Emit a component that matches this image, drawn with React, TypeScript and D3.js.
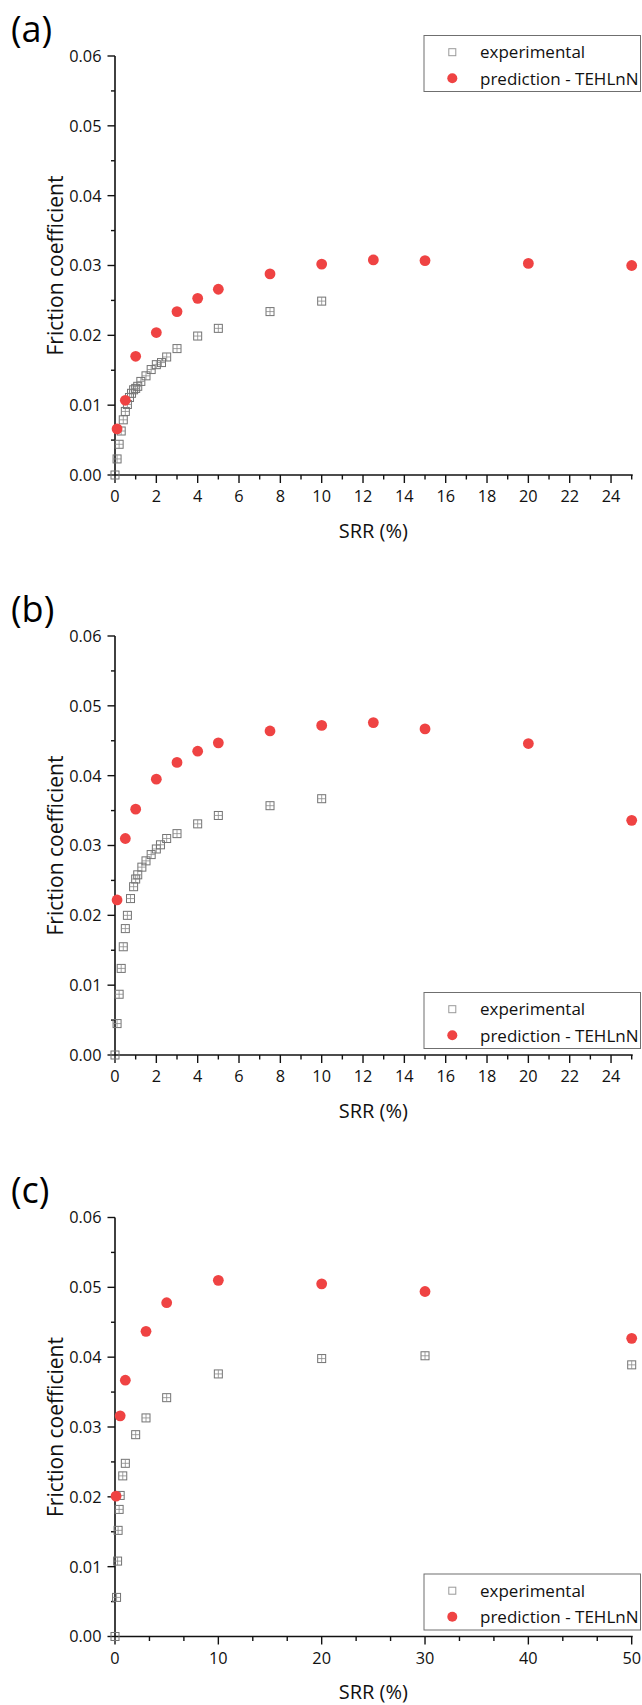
import React from "react";
import * as d3 from "d3";

// ---------- data ----------
const panelLabels = ["(a)", "(b)", "(c)"];
const legendNames = ["experimental", "prediction - TEHLnN"];
const xAxisTitle = "SRR (%)";
const yAxisTitle = "Friction coefficient";
const yTickValues = [0, 0.01, 0.02, 0.03, 0.04, 0.05, 0.06];

// panel (a)
const expAX = [0, 0.1, 0.2, 0.3, 0.4, 0.5, 0.6, 0.7, 0.8, 0.9, 1.0, 1.1, 1.25, 1.5, 1.75, 2, 2.25, 2.5, 3, 4, 5, 7.5, 10];
const expAY = [0, 0.0023, 0.0044, 0.0063, 0.0079, 0.0091, 0.0101, 0.0111, 0.0117, 0.0122, 0.0124, 0.0127, 0.0134, 0.0142, 0.0151, 0.0158, 0.0161, 0.0169, 0.0181, 0.0199, 0.0210, 0.0234, 0.0249];
const predAX = [0.1, 0.5, 1, 2, 3, 4, 5, 7.5, 10, 12.5, 15, 20, 25];
const predAY = [0.0066, 0.0107, 0.0170, 0.0204, 0.0234, 0.0253, 0.0266, 0.0288, 0.0302, 0.0308, 0.0307, 0.0303, 0.0300];

// panel (b)
const expBX = [0, 0.1, 0.2, 0.3, 0.4, 0.5, 0.6, 0.75, 0.9, 1.0, 1.1, 1.3, 1.5, 1.75, 2, 2.2, 2.5, 3, 4, 5, 7.5, 10];
const expBY = [0, 0.0045, 0.0087, 0.0124, 0.0155, 0.0181, 0.0200, 0.0224, 0.0241, 0.0252, 0.0258, 0.0269, 0.0278, 0.0287, 0.0295, 0.0301, 0.0310, 0.0317, 0.0331, 0.0343, 0.0357, 0.0367];
const predBX = [0.1, 0.5, 1, 2, 3, 4, 5, 7.5, 10, 12.5, 15, 20, 25];
const predBY = [0.0222, 0.0310, 0.0352, 0.0395, 0.0419, 0.0435, 0.0447, 0.0464, 0.0472, 0.0476, 0.0467, 0.0446, 0.0336];

// panel (c)
const expCX = [0, 0.15, 0.25, 0.3, 0.4, 0.5, 0.75, 1, 2, 3, 5, 10, 20, 30, 50];
const expCY = [0, 0.0056, 0.0108, 0.0152, 0.0182, 0.0202, 0.0230, 0.0248, 0.0289, 0.0313, 0.0342, 0.0376, 0.0398, 0.0402, 0.0389];
const predCX = [0.1, 0.5, 1, 3, 5, 10, 20, 30, 50];
const predCY = [0.0201, 0.0316, 0.0367, 0.0437, 0.0478, 0.0510, 0.0505, 0.0494, 0.0427];

const xMaxes = [25, 25, 50];
const xMajorSteps = [2, 2, 10];
const xMinorDivs = [2, 2, 3];

// ---------- layout ----------
const W = 642;
const H = 1705;
const plotLeft = 115;
const plotRight = 631.7;
const plotH = 419;
const bottoms = [475, 1055, 1636.5];
const legendTopsRel = [-439.5, -62.5, -62.5]; // relative to plot bottom

const FONT = "'Open Sans', 'Noto Sans', sans-serif";
const RED = "#EF4343";
const GREY = "#737373";

type Pt = { x: number; y: number };

const zip = (xs: number[], ys: number[]): Pt[] => xs.map((x, i) => ({ x, y: ys[i] }));

const panels = [
  { exp: zip(expAX, expAY), pred: zip(predAX, predAY) },
  { exp: zip(expBX, expBY), pred: zip(predBX, predBY) },
  { exp: zip(expCX, expCY), pred: zip(predCX, predCY) },
];

function Square({ cx, cy, plain }: { cx: number; cy: number; plain?: boolean }) {
  const s = 4;
  return (
    <g>
      <rect x={cx - s} y={cy - s} width={2 * s} height={2 * s} fill="none" stroke={GREY} strokeWidth={1} />
      {!plain && (
        <path
          d={`M${cx - s},${cy}H${cx + s}M${cx},${cy - s}V${cy + s}`}
          stroke="#8a8a8a"
          strokeWidth={0.8}
          fill="none"
        />
      )}
    </g>
  );
}

function Panel({ idx }: { idx: number }) {
  const bottom = bottoms[idx];
  const top = bottom - plotH;
  const xMax = xMaxes[idx];
  const x = d3.scaleLinear().domain([0, xMax]).range([plotLeft, plotRight]);
  const y = d3.scaleLinear().domain([0, 0.06]).range([bottom, top]);
  const step = xMajorSteps[idx];
  const majors = d3.range(0, xMax + 1e-9, step);
  const minorStep = step / xMinorDivs[idx];
  const minors = d3.range(0, xMax + 1e-9, minorStep).filter(
    (v) => Math.abs(v / step - Math.round(v / step)) > 1e-6
  );
  const yMinors = d3.range(0.005, 0.06, 0.01);
  const fmtY = d3.format(".2f");
  const { exp, pred } = panels[idx];
  const legTop = bottom + legendTopsRel[idx];
  const legLeft = 424;
  const legRight = 640.5;

  return (
    <g>
      <text x={11} y={bottom - 433.5} fontSize={36} fontFamily={FONT} fill="#000">
        {panelLabels[idx]}
      </text>

      {/* y axis */}
      <line x1={plotLeft} x2={plotLeft} y1={top} y2={bottom} stroke="#111" strokeWidth={1.6} />
      {yTickValues.map((v) => (
        <g key={"yt" + v}>
          <line x1={plotLeft - 7.5} x2={plotLeft} y1={y(v)} y2={y(v)} stroke="#111" strokeWidth={1.4} />
          <text
            x={plotLeft - 13.5}
            y={y(v)}
            dy="0.36em"
            textAnchor="end"
            fontSize={16.3}
            fontFamily={FONT}
            fill="#111"
          >
            {fmtY(v)}
          </text>
        </g>
      ))}
      {yMinors.map((v) => (
        <line key={"ym" + v} x1={plotLeft - 4} x2={plotLeft} y1={y(v)} y2={y(v)} stroke="#111" strokeWidth={1.4} />
      ))}

      {/* x axis */}
      <line x1={plotLeft} x2={plotRight + 1} y1={bottom} y2={bottom} stroke="#111" strokeWidth={1.6} />
      {majors.map((v) => (
        <g key={"xt" + v}>
          <line x1={x(v)} x2={x(v)} y1={bottom} y2={bottom + 8} stroke="#111" strokeWidth={1.4} />
          <text x={x(v)} y={bottom + 27} textAnchor="middle" fontSize={16.3} fontFamily={FONT} fill="#111">
            {v}
          </text>
        </g>
      ))}
      {minors.map((v) => (
        <line key={"xm" + v} x1={x(v)} x2={x(v)} y1={bottom} y2={bottom + 4.5} stroke="#111" strokeWidth={1.4} />
      ))}

      {/* titles */}
      <text
        x={(plotLeft + plotRight) / 2}
        y={bottom + 62.5}
        textAnchor="middle"
        fontSize={20}
        fontFamily={FONT}
        fill="#111"
      >
        {xAxisTitle}
      </text>
      <text
        transform={`translate(63.3,${(top + bottom) / 2}) rotate(-90)`}
        textAnchor="middle"
        fontSize={21}
        fontFamily={FONT}
        fill="#111"
      >
        {yAxisTitle}
      </text>

      {/* data */}
      {exp.map((p, i) => (
        <Square key={"e" + i} cx={x(p.x)} cy={y(p.y)} plain={p.x === 0} />
      ))}
      {pred.map((p, i) => (
        <circle key={"p" + i} cx={x(p.x)} cy={y(p.y)} r={5.4} fill={RED} />
      ))}

      {/* legend */}
      <rect
        x={legLeft}
        y={legTop}
        width={legRight - legLeft}
        height={56}
        fill="#fff"
        stroke="#6f6f6f"
        strokeWidth={1}
      />
      <rect x={452.3 - 3.5} y={legTop + 16.7 - 3.5} width={7} height={7} fill="none" stroke="#999" strokeWidth={1} />
      <text x={480} y={legTop + 22.5} fontSize={17} fontFamily={FONT} fill="#111">
        {legendNames[0]}
      </text>
      <circle cx={452.3} cy={legTop + 42.7} r={5} fill={RED} />
      <text x={480} y={legTop + 49} fontSize={17} fontFamily={FONT} fill="#111">
        {legendNames[1]}
      </text>
    </g>
  );
}

export default function App() {
  return (
    <svg
      width={W}
      height={H}
      viewBox={`0 0 ${W} ${H}`}
      style={{ position: "absolute", left: 0, top: 0, background: "#fff" }}
    >
      <rect x={0} y={0} width={W} height={H} fill="#fff" />
      {[0, 1, 2].map((i) => (
        <Panel key={i} idx={i} />
      ))}
    </svg>
  );
}
